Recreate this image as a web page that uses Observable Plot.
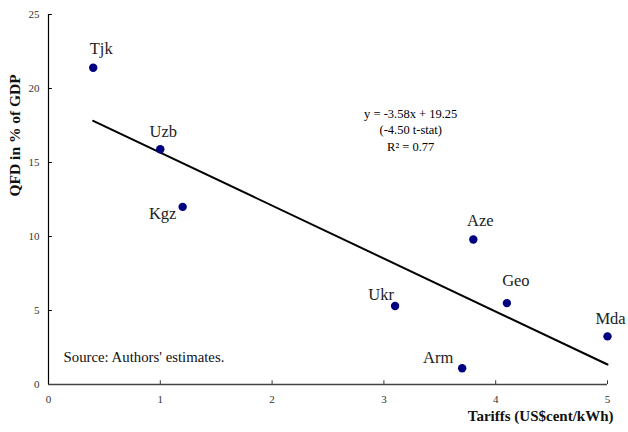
<!DOCTYPE html>
<html>
<head>
<meta charset="utf-8">
<script src="https://cdn.jsdelivr.net/npm/d3@7"></script>
<script src="https://cdn.jsdelivr.net/npm/@observablehq/plot@0.6"></script>
<style>
  html, body { margin: 0; padding: 0; background: #fff; }
  svg { display: block; }
</style>
</head>
<body>
<div id="chart"></div>
<script>
// ---- data ----
const countries = ["Tjk", "Uzb", "Kgz", "Ukr", "Arm", "Aze", "Geo", "Mda"];
const tariffs   = [0.4, 1.0, 1.2, 3.1, 3.7, 3.8, 4.1, 5.0];
const qfd       = [21.4, 15.9, 12.0, 5.3, 1.1, 9.8, 5.5, 3.25];
const xTicks = [0, 1, 2, 3, 4, 5];
const yTicks = [0, 5, 10, 15, 20, 25];
const fitSlope = -3.58;
const fitIntercept = 19.25;
const fitRange = [0.4, 5.0];
const eqText = ["y = -3.58x + 19.25", "(-4.50 t-stat)", "R\u00B2 = 0.77"];
const sourceText = "Source: Authors' estimates.";
const xTitle = "Tariffs (US$cent/kWh)";
const yTitle = "QFD in % of GDP";

const points = countries.map((c, i) => ({name: c, x: tariffs[i], y: qfd[i]}));
const fit = fitRange.map(x => ({x, y: fitSlope * x + fitIntercept}));

// label placement (pixel offsets, styling only)
const labelOffset = {
  Tjk: [8, -19], Uzb: [3, -17], Kgz: [-20, 7], Ukr: [-14, -11],
  Arm: [-24, -11], Aze: [7, -19], Geo: [9, -22], Mda: [3, -18]
};

const font = "'Liberation Serif', 'Times New Roman', serif";

const chart = Plot.plot({
  width: 628,
  height: 432,
  marginLeft: 48,
  marginRight: 21,
  marginTop: 14,
  marginBottom: 48,
  style: {fontFamily: font, background: "#fff", overflow: "visible"},
  x: {domain: [0, 5]},
  y: {domain: [0, 25]},
  marks: [
    Plot.axisY(yTicks, {tickSize: 0, tickPadding: 9, fontSize: 11, fill: "#333", label: null}),
    Plot.axisX(xTicks, {tickSize: 0, tickPadding: 11, fontSize: 11, fill: "#333", label: null}),
    Plot.ruleX(xTicks.filter(d => d > 0), {y1: 0, y2: 0.25, stroke: "#333"}),
    Plot.ruleY(yTicks.filter(d => d > 0), {x1: 0, x2: 0.035, stroke: "#000"}),
    Plot.ruleY([0], {stroke: "#444", strokeWidth: 1.5}),
    Plot.ruleX([0], {stroke: "#000", strokeWidth: 1.2}),
    Plot.line(fit, {x: "x", y: "y", stroke: "#000", strokeWidth: 2}),
    Plot.dot(points, {x: "x", y: "y", r: 4.2, fill: "#000080", stroke: null}),
    ...points.map(p => Plot.text([p], {
      x: "x", y: "y", text: "name",
      dx: labelOffset[p.name][0], dy: labelOffset[p.name][1],
      fontSize: 16.5, fill: "#222"
    })),
    Plot.text([eqText.join("\n")], {
      x: 3.24, y: 17.26, lineAnchor: "middle", lineHeight: 1.33,
      fontSize: 12.5, fill: "#000"
    }),
    Plot.text([sourceText], {
      frameAnchor: "bottom-left", dx: 15, dy: -23, textAnchor: "start",
      fontSize: 14.8, fill: "#111"
    }),
    Plot.text([xTitle], {
      frameAnchor: "bottom-right", dx: 6, dy: 36, textAnchor: "end",
      fontSize: 15, fontWeight: "bold", fill: "#111"
    }),
    Plot.text([yTitle], {
      frameAnchor: "left", dx: -33, dy: -3, rotate: -90,
      fontSize: 15.5, fontWeight: "bold", fill: "#111"
    })
  ]
});

document.getElementById("chart").appendChild(chart);
</script>
</body>
</html>
